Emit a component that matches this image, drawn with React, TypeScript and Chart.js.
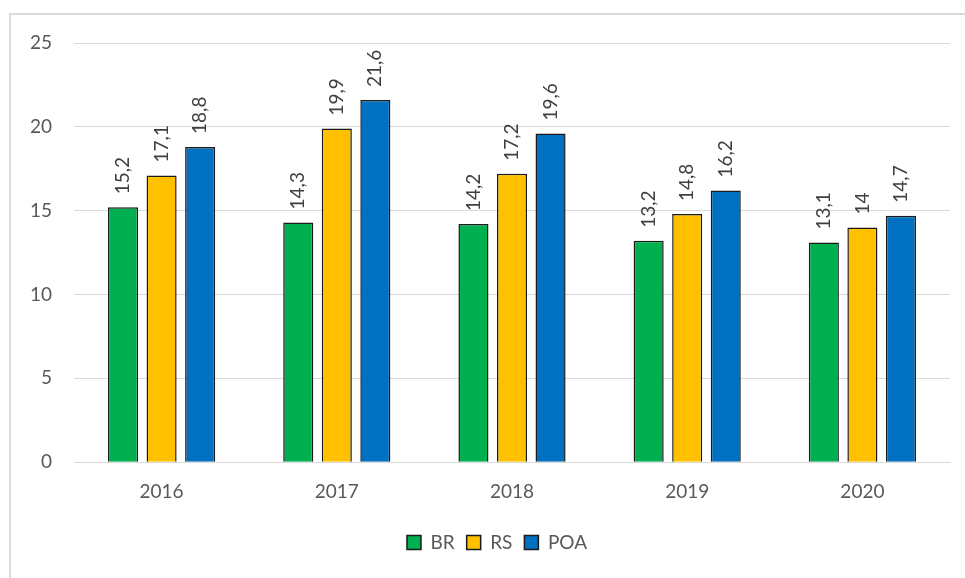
import React, { useEffect, useRef } from "react";
import { Chart, registerables } from "chart.js";

Chart.register(...registerables);

const categories = ["2016", "2017", "2018", "2019", "2020"];
const brValues = [15.2, 14.3, 14.2, 13.2, 13.1];
const rsValues = [17.1, 19.9, 17.2, 14.8, 14];
const poaValues = [18.8, 21.6, 19.6, 16.2, 14.7];
const seriesNames = ["BR", "RS", "POA"];
const seriesColors = ["#00B050", "#FFC000", "#0070C0"];
const yTicks = [0, 5, 10, 15, 20, 25];

const FONT = "Lato, 'Open Sans', sans-serif";
const FS = 19;

const valueLabelPlugin = {
  id: "valueLabels",
  afterDatasetsDraw(chart: any) {
    const ctx = chart.ctx;
    ctx.save();
    ctx.font = `${FS}px ${FONT}`;
    ctx.fillStyle = "#404040";
    ctx.textAlign = "left";
    ctx.textBaseline = "middle";
    chart.data.datasets.forEach((ds: any, di: number) => {
      const meta = chart.getDatasetMeta(di);
      meta.data.forEach((bar: any, i: number) => {
        const v = ds.data[i];
        const txt = String(v).replace(".", ",");
        ctx.save();
        ctx.translate(bar.x, bar.y - 13);
        ctx.rotate(-Math.PI / 2);
        ctx.fillText(txt, 0, 0);
        ctx.restore();
      });
    });
    ctx.restore();
  },
};

const legendShiftPlugin = {
  id: "legendShift",
  afterLayout(chart: any) {
    if (chart.legend) {
      chart.legend.left += 22;
      chart.legend.right += 22;
    }
  },
};

export default function App() {
  const ref = useRef<HTMLCanvasElement | null>(null);
  useEffect(() => {
    if (!ref.current) return;
    const data = [brValues, rsValues, poaValues];
    const chart = new Chart(ref.current, {
      type: "bar",
      data: {
        labels: categories,
        datasets: seriesNames.map((name, i) => ({
          label: name,
          data: data[i],
          backgroundColor: seriesColors[i],
          borderColor: "#1a1a1a",
          borderWidth: 1.5,
          categoryPercentage: 0.66,
          barPercentage: 0.78,
        })),
      },
      options: {
        animation: false,
        responsive: false,
        maintainAspectRatio: false,
        layout: { padding: { left: 0, right: 15, top: 43, bottom: 16 } },
        plugins: {
          legend: {
            position: "bottom",
            labels: {
              font: { family: FONT, size: FS },
              color: "#595959",
              boxWidth: 14,
              boxHeight: 14,
              padding: 12,
            },
          },
          tooltip: { enabled: false },
        },
        scales: {
          x: {
            grid: { display: false, drawTicks: false },
            border: { display: true, color: "#d9d9d9", width: 1 },
            ticks: { font: { family: FONT, size: FS }, color: "#595959", padding: 18 },
          },
          y: {
            min: 0,
            max: 25,
            afterBuildTicks: (scale: any) => {
              scale.ticks = yTicks.map((v) => ({ value: v }));
            },
            afterFit: (scale: any) => {
              scale.width = 74;
            },
            grid: { color: "#d9d9d9", drawTicks: false, lineWidth: 1 },
            border: { display: false },
            ticks: { font: { family: FONT, size: FS }, color: "#595959", padding: 22 },
          },
        },
      },
      plugins: [valueLabelPlugin, legendShiftPlugin],
    });
    return () => chart.destroy();
  }, []);
  return (
    <div style={{ position: "fixed", left: 0, top: 0, width: 965, height: 578, overflow: "hidden", background: "#fff" }}>
      <div
        style={{
          position: "absolute",
          left: 9,
          top: 13,
          width: 1000,
          height: 700,
          border: "2px solid #d9d9d9",
          boxSizing: "border-box",
        }}
      />
      <canvas ref={ref} width={965} height={578} style={{ position: "absolute", left: 0, top: 0 }} />
    </div>
  );
}
